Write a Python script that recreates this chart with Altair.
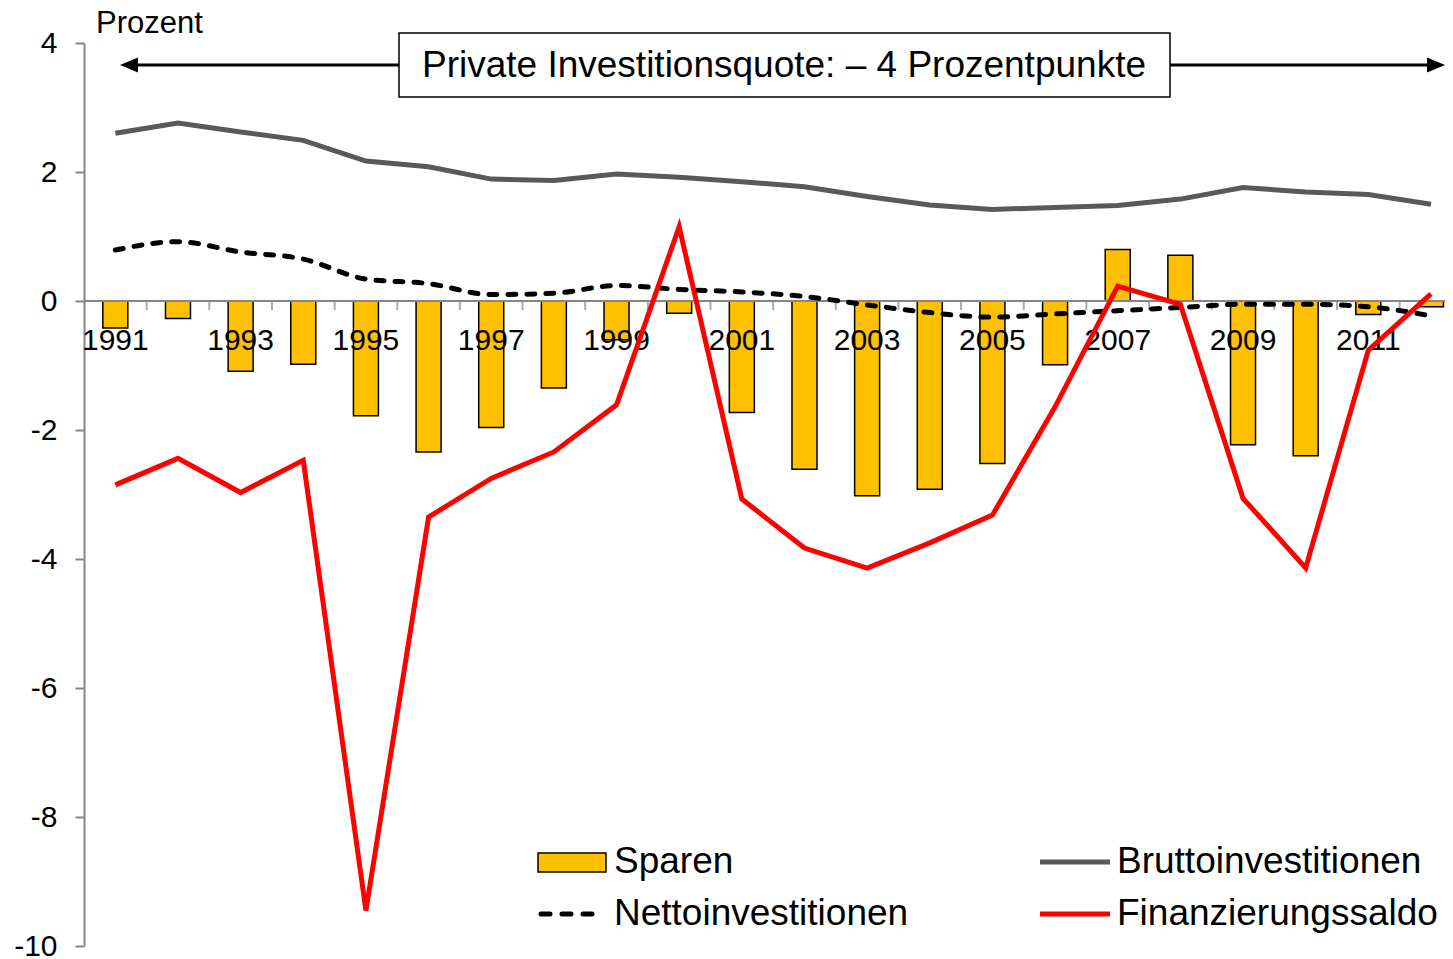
import altair as alt
import pandas as pd

# ---------------- data ----------------
years = list(range(1991, 2013))
sparen = [-0.42, -0.27, -1.09, -0.98, -1.78, -2.34, -1.96, -1.35, -0.60, -0.19,
          -1.73, -2.61, -3.02, -2.92, -2.52, -0.99, 0.80, 0.71, -2.23, -2.40,
          -0.21, -0.09]
brutto = [2.60, 2.76, 2.62, 2.49, 2.17, 2.08, 1.89, 1.87, 1.97, 1.92,
          1.85, 1.77, 1.62, 1.49, 1.42, 1.45, 1.48, 1.58, 1.76, 1.69,
          1.65, 1.50]
netto = [0.79, 0.92, 0.76, 0.65, 0.34, 0.27, 0.10, 0.12, 0.24, 0.18,
         0.14, 0.07, -0.06, -0.18, -0.25, -0.20, -0.15, -0.10, -0.05, -0.05,
         -0.09, -0.23]
saldo = [-2.85, -2.44, -2.97, -2.47, -9.45, -3.35, -2.75, -2.34, -1.61, 1.15,
         -3.07, -3.83, -4.14, -3.75, -3.32, -1.64, 0.23, -0.05, -3.06, -4.14,
         -0.76, 0.11]
label_years = [str(y) for y in range(1991, 2013, 2)]
tick_positions = [y + 0.5 for y in years]
y_ticks = [-10, -8, -6, -4, -2, 0, 2, 4]

series_names = ["Sparen", "Nettoinvestitionen", "Bruttoinvestitionen", "Finanzierungssaldo"]
annotation = "Private Investitionsquote: \u2013 4 Prozentpunkte"
unit_label = "Prozent"

FONT = "Liberation Sans"
W, H = 1361, 903
STEP = 62.65
GRAY_AX = "#868686"

df = pd.DataFrame({"year": years, "sparen": sparen, "brutto": brutto,
                   "netto": netto, "saldo": saldo})
one = pd.DataFrame({"k": [0]})

xscale = alt.Scale(domain=[1990.5, 1990.5 + W / STEP], nice=False, zero=False, padding=0)
yscale = alt.Scale(domain=[-10, 4], nice=False, zero=False, padding=0)

yaxis = alt.Axis(values=y_ticks, grid=False, title=None,
                 domainColor=GRAY_AX, domainWidth=2,
                 tickColor=GRAY_AX, tickWidth=2, tickSize=9,
                 labelFont=FONT, labelFontSize=30, labelColor="black",
                 labelPadding=18, labelExpr="datum.value + ''")


def Y(field=None, datum=None):
    if field is not None:
        return alt.Y(field, scale=yscale, axis=yaxis)
    return alt.Y(datum=datum, scale=yscale, axis=yaxis)


X = alt.X("year:Q", scale=xscale, axis=None)
base = alt.Chart(df)

bars = base.mark_bar(size=25, color="#FFC000", stroke="black", strokeWidth=1.5).encode(
    x=X, y=Y("sparen:Q"), y2=alt.datum(0))

zero_line = alt.Chart(one).mark_rule(color=GRAY_AX, strokeWidth=2).encode(
    x=alt.value(0), x2=alt.value(W), y=Y(datum=0))

ticks = alt.Chart(pd.DataFrame({"t": tick_positions})).mark_tick(
    orient="vertical", size=9, thickness=2, color=GRAY_AX, yOffset=4.5).encode(
    x=alt.X("t:Q", scale=xscale, axis=None), y=Y(datum=0))

xlabels = alt.Chart(pd.DataFrame({"lab": label_years, "yr": [int(s) for s in label_years]})).mark_text(
    font=FONT, fontSize=30, baseline="alphabetic", dy=49, color="black").encode(
    x=alt.X("yr:Q", scale=xscale, axis=None), y=Y(datum=0), text="lab:N")

brutto_line = base.mark_line(color="#595959", strokeWidth=5).encode(x=X, y=Y("brutto:Q"))
netto_line = base.mark_line(color="black", strokeWidth=5, strokeDash=[8, 11],
                            strokeCap="round", interpolate="monotone").encode(x=X, y=Y("netto:Q"))
saldo_line = base.mark_line(color="#FF0000", strokeWidth=5).encode(x=X, y=Y("saldo:Q"))

# ---------------- legend (manual) ----------------
oc = alt.Chart(one)
leg_rect = oc.mark_rect(fill="#FFC000", stroke="black", strokeWidth=1.5).encode(
    x=alt.value(454), x2=alt.value(522), y=alt.value(810), y2=alt.value(829))
leg_netto = oc.mark_rule(color="black", strokeWidth=5, strokeDash=[9, 12], strokeCap="round").encode(
    x=alt.value(457), x2=alt.value(519), y=alt.value(871))
leg_brutto = oc.mark_rule(color="#595959", strokeWidth=5).encode(
    x=alt.value(956), x2=alt.value(1026), y=alt.value(819))
leg_saldo = oc.mark_rule(color="#FF0000", strokeWidth=5).encode(
    x=alt.value(956), x2=alt.value(1026), y=alt.value(871))
leg_txt = []
for name, xx, yy in [(series_names[0], 530, 819), (series_names[1], 530, 871),
                     (series_names[2], 1033, 819), (series_names[3], 1033, 871)]:
    leg_txt.append(oc.mark_text(text=name, font=FONT, fontSize=37, align="left",
                                baseline="middle", color="black").encode(
        x=alt.value(xx), y=alt.value(yy)))

# ---------------- annotation ----------------
arrow_line = oc.mark_rule(color="black", strokeWidth=3).encode(
    x=alt.value(44), x2=alt.value(W - 8), y=alt.value(22))
head_l = oc.mark_point(shape="M -1 0 L 1 -0.83 L 1 0.83 Z", filled=True, size=324,
                       color="black", opacity=1).encode(x=alt.value(45), y=alt.value(22))
head_r = oc.mark_point(shape="M 1 0 L -1 -0.83 L -1 0.83 Z", filled=True, size=324,
                       color="black", opacity=1).encode(x=alt.value(W - 9), y=alt.value(22))
box = oc.mark_rect(fill="white", stroke="black", strokeWidth=1.5).encode(
    x=alt.value(315), x2=alt.value(1086), y=alt.value(-10), y2=alt.value(54))
box_txt = oc.mark_text(text=annotation, font=FONT, fontSize=37, align="center",
                       baseline="middle", color="black").encode(
    x=alt.value(700), y=alt.value(23))
prozent = oc.mark_text(text=unit_label, font=FONT, fontSize=31, align="left",
                       baseline="alphabetic", color="black").encode(
    x=alt.value(12), y=alt.value(-10))

chart = alt.layer(
    bars, zero_line, ticks, xlabels, brutto_line, netto_line, saldo_line,
    leg_rect, leg_netto, leg_brutto, leg_saldo, *leg_txt,
    arrow_line, head_l, head_r, box, box_txt, prozent
).properties(
    width=W, height=H,
    autosize=alt.AutoSizeParams(type="none"),
    padding={"left": 76, "top": 35, "right": 0, "bottom": 13},
    background="white",
).configure_view(stroke=None)

chart.save("out.html", embed_options={"renderer": "svg", "actions": False})
